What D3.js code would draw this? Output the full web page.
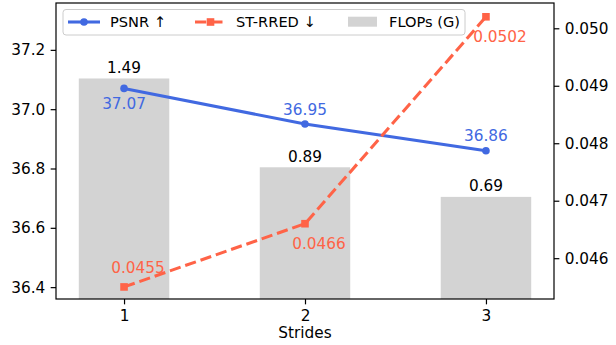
<!DOCTYPE html>
<html><head><meta charset="utf-8">
<script src="https://cdn.jsdelivr.net/npm/d3@7"></script>
<style>
html,body{margin:0;padding:0;background:#fff;}
text{font-family:"DejaVu Sans",sans-serif;}
</style></head>
<body>
<svg id="c" width="616" height="345"></svg>
<script>
const strides = [1, 2, 3];
const psnr = [37.07, 36.95, 36.86];
const strred = [0.0455, 0.0466, 0.0502];
const flops = [1.49, 0.89, 0.69];
const psnrTicks = [36.4, 36.6, 36.8, 37.0, 37.2];
const strredTicks = [0.046, 0.047, 0.048, 0.049, 0.050];

const W = 616, H = 345;
const m = {l: 56, r: 554, t: 3, b: 299};
const fs = 15.3, lfs = 14.6;
const blue = "#4169E1", red = "#FF6347", gray = "#D3D3D3";
const lw = 3.06, dash = "11.3,4.9";

const svg = d3.select("#c");
const x = d3.scaleLinear().domain([0.624, 3.376]).range([m.l, m.r]);
const yL = d3.scaleLinear().domain([36.36, 37.358]).range([m.b, m.t]);
const yR = d3.scaleLinear().domain([0.04529, 0.05044]).range([m.b, m.t]);
const yB = d3.scaleLinear().domain([0, 2.0]).range([m.b, m.t]);

// bars
const bw = x(1.25) - x(0.75);
svg.append("g").selectAll("rect").data(flops).join("rect")
  .attr("x", (d, i) => x(strides[i]) - bw / 2)
  .attr("y", d => yB(d))
  .attr("width", bw)
  .attr("height", d => yB(0) - yB(d))
  .attr("fill", gray);
svg.append("g").selectAll("text").data(flops).join("text")
  .attr("x", (d, i) => x(strides[i]))
  .attr("y", d => yB(d) - 5.6)
  .attr("text-anchor", "middle")
  .attr("font-size", fs)
  .attr("fill", "#000")
  .text(d => d.toFixed(2));

// PSNR line
const lineL = d3.line().x((d, i) => x(strides[i])).y(d => yL(d));
svg.append("path").datum(psnr).attr("d", lineL)
  .attr("fill", "none").attr("stroke", blue).attr("stroke-width", lw);
svg.append("g").selectAll("circle").data(psnr).join("circle")
  .attr("cx", (d, i) => x(strides[i])).attr("cy", d => yL(d))
  .attr("r", 3.8).attr("fill", blue);
const psnrOff = [21, -9, -10];
svg.append("g").selectAll("text").data(psnr).join("text")
  .attr("x", (d, i) => x(strides[i]))
  .attr("y", (d, i) => yL(d) + psnrOff[i])
  .attr("text-anchor", "middle").attr("font-size", fs).attr("fill", blue)
  .text(d => d.toFixed(2));

// ST-RRED line
const lineR = d3.line().x((d, i) => x(strides[i])).y(d => yR(d));
svg.append("path").datum(strred).attr("d", lineR)
  .attr("fill", "none").attr("stroke", red).attr("stroke-width", lw)
  .attr("stroke-dasharray", dash);
svg.append("g").selectAll("rect").data(strred).join("rect")
  .attr("x", (d, i) => x(strides[i]) - 3.8).attr("y", d => yR(d) - 3.8)
  .attr("width", 7.6).attr("height", 7.6).attr("fill", red);
const rOff = [-14, 25.7, 25.7];
svg.append("g").selectAll("text").data(strred).join("text")
  .attr("x", (d, i) => x(strides[i]) + 14)
  .attr("y", (d, i) => yR(d) + rOff[i])
  .attr("text-anchor", "middle").attr("font-size", fs).attr("fill", red)
  .text(d => d.toFixed(4));

// frame
svg.append("rect").attr("x", m.l).attr("y", m.t).attr("width", m.r - m.l).attr("height", m.b - m.t)
  .attr("fill", "none").attr("stroke", "#000").attr("stroke-width", 1.2);

// axes
const tk = 5.35;
const axL = svg.append("g").attr("transform", `translate(${m.l},0)`)
  .call(d3.axisLeft(yL).tickValues(psnrTicks).tickFormat(d3.format(".1f")).tickSize(tk).tickPadding(tk));
const axR = svg.append("g").attr("transform", `translate(${m.r},0)`)
  .call(d3.axisRight(yR).tickValues(strredTicks).tickFormat(d3.format(".3f")).tickSize(tk).tickPadding(tk));
const axB = svg.append("g").attr("transform", `translate(0,${m.b})`)
  .call(d3.axisBottom(x).tickValues(strides).tickFormat(d3.format("d")).tickSize(tk).tickPadding(tk));
[axL, axR, axB].forEach(a => {
  a.select(".domain").remove();
  a.attr("font-size", fs).attr("font-family", "DejaVu Sans");
  a.selectAll("text").attr("font-size", fs).attr("fill", "#000");
  a.selectAll("line").attr("stroke", "#000").attr("stroke-width", 1.2);
});
svg.append("text").attr("x", (m.l + m.r) / 2).attr("y", 338)
  .attr("text-anchor", "middle").attr("font-size", fs).text("Strides");

// legend
const lg = svg.append("g");
lg.append("rect").attr("x", 63).attr("y", 9.5).attr("width", 402).attr("height", 25.5)
  .attr("rx", 3).attr("fill", "#fff").attr("fill-opacity", 0.8)
  .attr("stroke", "#cccccc").attr("stroke-width", 1);
const ly = 22;
lg.append("line").attr("x1", 68).attr("x2", 100).attr("y1", ly).attr("y2", ly)
  .attr("stroke", blue).attr("stroke-width", lw);
lg.append("circle").attr("cx", 84).attr("cy", ly).attr("r", 3.8).attr("fill", blue);
lg.append("text").attr("x", 110).attr("y", ly + 5.2).attr("font-size", lfs).text("PSNR ↑");
lg.append("line").attr("x1", 195).attr("x2", 226).attr("y1", ly).attr("y2", ly)
  .attr("stroke", red).attr("stroke-width", lw).attr("stroke-dasharray", dash);
lg.append("rect").attr("x", 210.5 - 3.8).attr("y", ly - 3.8).attr("width", 7.6).attr("height", 7.6).attr("fill", red);
lg.append("text").attr("x", 236).attr("y", ly + 5.2).attr("font-size", lfs).text("ST-RRED ↓");
lg.append("rect").attr("x", 348).attr("y", 16.7).attr("width", 29).attr("height", 10).attr("fill", gray);
lg.append("text").attr("x", 389).attr("y", ly + 5.2).attr("font-size", lfs).text("FLOPs (G)");
</script>
</body></html>
